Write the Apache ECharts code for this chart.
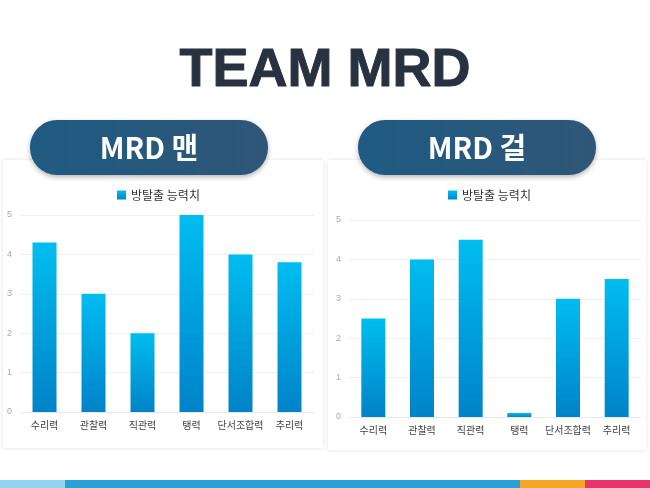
<!DOCTYPE html>
<html><head><meta charset="utf-8">
<script src="https://cdn.jsdelivr.net/npm/echarts@6/dist/echarts.min.js"></script>
<style>html,body{margin:0;padding:0;background:#fff}#c{width:650px;height:488px}</style>
</head><body><div id="c"></div>
<script>
const categories = ['수리력','관찰력','직관력','탱력','단서조합력','추리력'];
const manValues = [4.3, 3, 2, 5, 4, 3.8];
const girlValues = [2.5, 4, 4.5, 0.1, 3, 3.5];
const seriesName = '방탈출 능력치';
const yTicks = [0,1,2,3,4,5];

const barColor = new echarts.graphic.LinearGradient(0,0,0,1,[{offset:0,color:'#00bdf0'},{offset:1,color:'#0083c8'}]);
const pillColor = new echarts.graphic.LinearGradient(0,0,1,0,[{offset:0,color:'#1f5b83'},{offset:1,color:'#2f5677'}]);
const font = '"Noto Sans CJK KR", sans-serif';
const chart = echarts.init(document.getElementById('c'));
function xa(i){return {type:'category',gridIndex:i,data:categories,axisTick:{show:false},axisLine:{lineStyle:{color:'#e8e8e8'}},axisLabel:{color:'#444',fontSize:10,fontFamily:font,interval:0}};}
function ya(i){return {type:'value',gridIndex:i,min:0,max:5,interval:1,axisLabel:{color:'#aaa',fontSize:9},splitLine:{lineStyle:{color:'#f0f0f0'}}};}
chart.setOption({
  animation:false,
  graphic:[
    {type:'rect',z:-10,shape:{x:3,y:160,width:320,height:288},style:{fill:'#fff',shadowBlur:4,shadowColor:'rgba(0,0,0,0.12)'}},
    {type:'rect',z:-10,shape:{x:328,y:160,width:318,height:290},style:{fill:'#fff',shadowBlur:4,shadowColor:'rgba(0,0,0,0.12)'}},
    {type:'text',left:'center',top:44,style:{text:'TEAM MRD',fontSize:54,fontWeight:'bold',fontFamily:'"Liberation Sans",Arial',fill:'#27313f',stroke:'#27313f',lineWidth:1}},
    {type:'rect',shape:{x:30,y:120,width:238,height:55,r:27},style:{fill:pillColor,shadowBlur:5,shadowColor:'rgba(0,0,0,0.3)',shadowOffsetY:2}},
    {type:'rect',shape:{x:358,y:120,width:238,height:55,r:27},style:{fill:pillColor,shadowBlur:5,shadowColor:'rgba(0,0,0,0.3)',shadowOffsetY:2}},
    {type:'text',x:149,y:148,style:{text:'MRD 맨',fontSize:29,fontWeight:'bold',fontFamily:font,fill:'#fff',align:'center',verticalAlign:'middle'}},
    {type:'text',x:477,y:148,style:{text:'MRD 걸',fontSize:29,fontWeight:'bold',fontFamily:font,fill:'#fff',align:'center',verticalAlign:'middle'}},
    {type:'rect',shape:{x:0,y:480,width:65,height:8},style:{fill:'#8fd3f2'}},
    {type:'rect',shape:{x:65,y:480,width:455,height:8},style:{fill:'#2b9fd8'}},
    {type:'rect',shape:{x:520,y:480,width:65,height:8},style:{fill:'#f5a623'}},
    {type:'rect',shape:{x:585,y:480,width:65,height:8},style:{fill:'#e9336b'}}
  ],
  legend:[
    {left:163,top:186,left:'auto',right:'auto',x:163,data:[seriesName],itemWidth:9,itemHeight:9,icon:'rect',textStyle:{fontSize:12,fontFamily:font,color:'#333'},itemGap:4,formatter:'{name}'},
  ],
  grid:[{left:20,right:336,top:215,bottom:76},{left:349,right:9,top:220,bottom:71}],
  xAxis:[xa(0),xa(1)],
  yAxis:[ya(0),ya(1)],
  series:[
    {name:seriesName,type:'bar',xAxisIndex:0,yAxisIndex:0,data:manValues,barWidth:24,itemStyle:{color:barColor}},
    {name:seriesName+' ',type:'bar',xAxisIndex:1,yAxisIndex:1,data:girlValues,barWidth:24,itemStyle:{color:barColor}}
  ]
});
chart.setOption({legend:[
  {id:'l1',left:112,top:184,data:[seriesName],itemWidth:9,itemHeight:9,icon:'rect',itemGap:4,textStyle:{fontSize:12,fontFamily:font,color:'#333'}},
  {id:'l2',left:443,top:184,data:[seriesName+' '],itemWidth:9,itemHeight:9,icon:'rect',itemGap:4,textStyle:{fontSize:12,fontFamily:font,color:'#333'}}
]},{replaceMerge:['legend']});
chart.setOption({color:['#00a6dc','#00a6dc'],series:[{itemStyle:{color:barColor}},{itemStyle:{color:barColor}}]});
</script></body></html>
